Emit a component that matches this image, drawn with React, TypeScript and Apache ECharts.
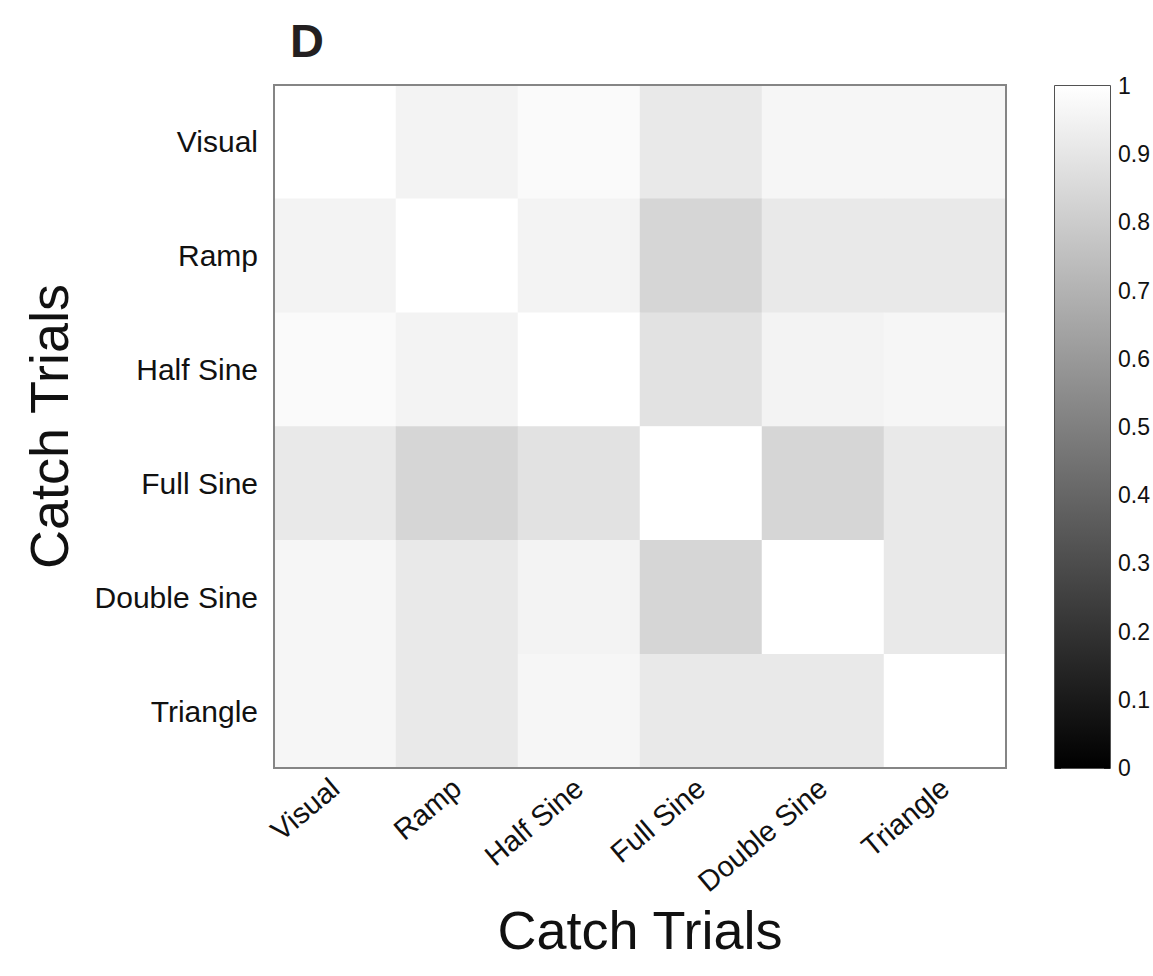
import React, { useEffect, useRef } from "react";
import * as echarts from "echarts";

// Stimulus categories (same set on both axes)
const categories = ["Visual", "Ramp", "Half Sine", "Full Sine", "Double Sine", "Triangle"];

// Similarity matrix, one row per catch trial type (top to bottom)
const rowVisual = [1.0, 0.953, 0.98, 0.914, 0.965, 0.965];
const rowRamp = [0.953, 1.0, 0.953, 0.84, 0.914, 0.914];
const rowHalfSine = [0.98, 0.953, 1.0, 0.886, 0.953, 0.965];
const rowFullSine = [0.914, 0.84, 0.886, 1.0, 0.84, 0.914];
const rowDoubleSine = [0.965, 0.914, 0.953, 0.84, 1.0, 0.914];
const rowTriangle = [0.965, 0.914, 0.965, 0.914, 0.914, 1.0];
const matrix = [rowVisual, rowRamp, rowHalfSine, rowFullSine, rowDoubleSine, rowTriangle];

// Colour bar scale
const scaleMin = 0;
const scaleMax = 1;
const scaleStep = 0.1;

const FONT = "Liberation Sans, Arial, Helvetica, sans-serif";

export default function App() {
  const ref = useRef<HTMLDivElement>(null);

  useEffect(() => {
    if (!ref.current) return;
    const chart = echarts.init(ref.current, null, { renderer: "svg" });

    const heatData: [number, number, number][] = [];
    matrix.forEach((row, yi) => {
      row.forEach((v, xi) => heatData.push([xi, yi, v]));
    });

    chart.setOption({
      animation: false,
      backgroundColor: "#ffffff",
      title: {
        text: "D",
        left: 285,
        top: 12,
        textStyle: { fontFamily: FONT, fontWeight: "bold", fontSize: 47, color: "#231f20" },
      },
      grid: [
        {
          left: 274,
          top: 85,
          width: 732,
          height: 683,
          containLabel: false,
          outerBoundsMode: "none",
          show: true,
          borderColor: "#858585",
          borderWidth: 2,
          backgroundColor: "transparent",
          z: 5,
        },
        {
          left: 1055,
          top: 86,
          width: 55,
          height: 682,
          containLabel: false,
          outerBoundsMode: "none",
          show: true,
          borderColor: "#1a1a1a",
          borderWidth: 1.5,
          backgroundColor: "transparent",
        },
      ],
      xAxis: [
        {
          type: "category",
          gridIndex: 0,
          data: categories,
          axisLine: { show: false },
          axisTick: { show: false },
          splitLine: { show: false },
          axisLabel: {
            rotate: 40,
            margin: 16,
            fontFamily: FONT,
            fontSize: 29,
            color: "#111",
          },
          name: "Catch Trials",
          nameLocation: "middle",
          nameGap: 128,
          nameTextStyle: { fontFamily: FONT, fontSize: 54, color: "#111" },
        },
        {
          type: "category",
          gridIndex: 1,
          data: [""],
          axisLine: { show: false },
          axisTick: { show: false },
          axisLabel: { show: false },
        },
      ],
      yAxis: [
        {
          type: "category",
          gridIndex: 0,
          data: categories,
          inverse: true,
          axisLine: { show: false },
          axisTick: { show: false },
          splitLine: { show: false },
          axisLabel: {
            margin: 16,
            fontFamily: FONT,
            fontSize: 30,
            color: "#111",
          },
          name: "Catch Trials",
          nameLocation: "middle",
          nameGap: 198,
          nameRotate: 90,
          nameTextStyle: { fontFamily: FONT, fontSize: 54, color: "#111" },
        },
        {
          type: "value",
          gridIndex: 1,
          position: "right",
          min: scaleMin,
          max: scaleMax,
          interval: scaleStep,
          axisLine: { show: false },
          splitLine: { show: false },
          axisTick: { show: true, inside: true, length: 6, lineStyle: { color: "#1a1a1a", width: 1 } },
          axisLabel: {
            margin: 8,
            fontFamily: FONT,
            fontSize: 23,
            color: "#111",
            formatter: (v: number) => String(Math.round(v * 10) / 10),
          },
        },
        {
          type: "value",
          gridIndex: 1,
          position: "left",
          min: scaleMin,
          max: scaleMax,
          interval: scaleStep,
          axisLine: { show: false },
          splitLine: { show: false },
          axisTick: { show: true, inside: true, length: 6, lineStyle: { color: "#1a1a1a", width: 1 } },
          axisLabel: { show: false },
        },
      ],
      visualMap: {
        type: "continuous",
        show: false,
        min: scaleMin,
        max: scaleMax,
        seriesIndex: 0,
        inRange: { color: ["#000000", "#ffffff"] },
      },
      series: [
        {
          type: "heatmap",
          xAxisIndex: 0,
          yAxisIndex: 0,
          data: heatData,
          itemStyle: { borderWidth: 0 },
          emphasis: { disabled: true },
        },
        {
          type: "bar",
          xAxisIndex: 1,
          yAxisIndex: 1,
          data: [scaleMax],
          barWidth: "100%",
          silent: true,
          itemStyle: {
            color: {
              type: "linear",
              x: 0,
              y: 0,
              x2: 0,
              y2: 1,
              colorStops: [
                { offset: 0, color: "#ffffff" },
                { offset: 1, color: "#000000" },
              ],
            },
          },
        },
      ],
    });

    return () => chart.dispose();
  }, []);

  return (
    <div
      ref={ref}
      style={{ position: "fixed", left: 0, top: 0, width: 1153, height: 976, background: "#fff" }}
    />
  );
}
